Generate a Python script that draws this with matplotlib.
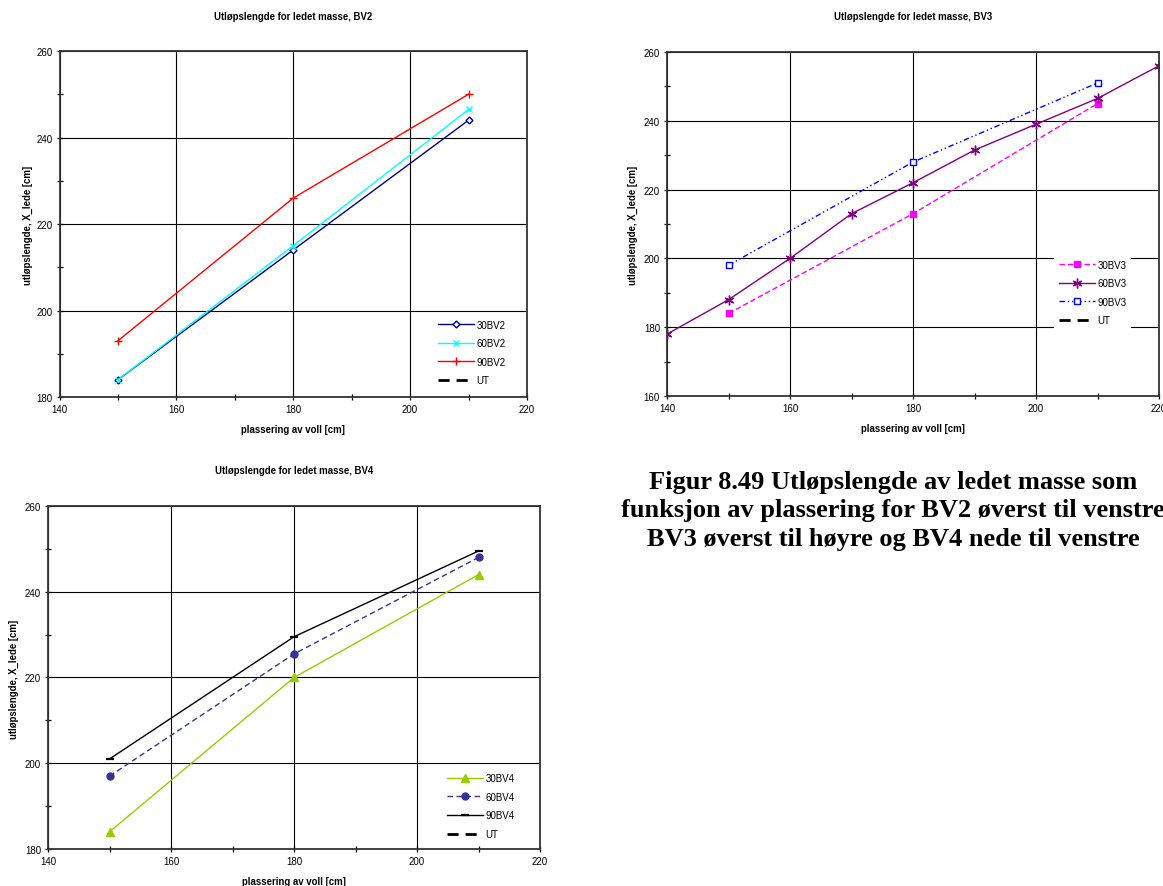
import matplotlib
matplotlib.use("Agg")
import matplotlib.pyplot as plt
from matplotlib.ticker import MultipleLocator

# ---------------- data ----------------
x3 = [150, 180, 210]

bv2_30 = [184, 214, 244]
bv2_60 = [184, 215, 246.5]
bv2_90 = [193, 226, 250]

bv3_30 = [184, 213, 245]
bv3_60_x = [140, 150, 160, 170, 180, 190, 200, 210, 220]
bv3_60 = [178, 188, 200, 213, 222, 231.5, 239, 246.5, 256]
bv3_90 = [198, 228, 251]

bv4_30 = [184, 220, 244]
bv4_60 = [197, 225.5, 248]
bv4_90 = [201, 229.5, 249.5]

titles = ["Utløpslengde for ledet masse, BV2",
          "Utløpslengde for ledet masse, BV3",
          "Utløpslengde for ledet masse, BV4"]
xlabel = "plassering av voll [cm]"
ylabel = "utløpslengde, X_lede [cm]"
caption = ("Figur 8.49 Utløpslengde av ledet masse som\n"
           "funksjon av plassering for BV2 øverst til venstre\n"
           "BV3 øverst til høyre og BV4 nede til venstre")

# ---------------- figure ----------------
W, H = 1163, 887
fig = plt.figure(figsize=(W / 100, H / 100), dpi=100)
plt.rcParams['font.family'] = ['Liberation Sans', 'DejaVu Sans']

def px_axes(l, r, t, b):
    return fig.add_axes([l / W, 1 - b / H, (r - l) / W, (b - t) / H])

def style(ax, ylo, yhi):
    ax.set_xlim(140, 220)
    ax.set_ylim(ylo, yhi)
    ax.xaxis.set_major_locator(MultipleLocator(20))
    ax.xaxis.set_minor_locator(MultipleLocator(10))
    ax.yaxis.set_major_locator(MultipleLocator(20))
    ax.yaxis.set_minor_locator(MultipleLocator(10))
    ax.grid(True, which='major', color='black', lw=0.8)
    ax.set_axisbelow(True)
    ax.tick_params(which='both', direction='inout', length=4, width=0.9,
                   labelsize=7, color='black', pad=3)
    for s in ax.spines.values():
        s.set_color('#333333')
        s.set_linewidth(1.3)

def leg(ax, ax_x, ax_y):
    lg = ax.legend(loc='center left', bbox_to_anchor=(ax_x, ax_y),
                   borderaxespad=0, frameon=True, fontsize=7,
                   handlelength=3.7, handletextpad=0.25, labelspacing=0.88,
                   borderpad=0.5)
    lg.get_frame().set_edgecolor('none')
    lg.get_frame().set_facecolor('white')
    lg.get_frame().set_alpha(1)
    lg.get_frame().set_boxstyle('square', pad=0)

ut_kw = dict(color='black', ls=(0, (4, 2.5)), lw=2, label='UT')

# ---- panel 1: BV2 ----
ax1 = px_axes(59.5, 527, 52, 398)
style(ax1, 180, 260)
ax1.plot(x3, bv2_30, color='#000080', lw=1, marker='D', ms=3.5,
         mfc='white', mec='#000080', mew=1, label='30BV2')
ax1.plot(x3, bv2_60, color='#00FFFF', lw=1, marker='x', ms=5,
         mew=1, label='60BV2')
ax1.plot(x3, bv2_90, color='#FF0000', lw=1, marker='+', ms=6,
         mew=1, label='90BV2')
ax1.plot([], [], **ut_kw)
leg(ax1, 0.799, 0.129)

# ---- panel 2: BV3 ----
ax2 = px_axes(667, 1159, 53, 397)
style(ax2, 160, 260)
ax2.plot(x3, bv3_30, color='#FF00FF', lw=1, ls=(0, (4, 2)), marker='s',
         ms=5, mfc='#FF00FF', mec='#FF00FF', label='30BV3')
ax2.plot(bv3_60_x, bv3_60, color='#800080', lw=1, marker=(6, 2, 0),
         ms=7, mew=1, label='60BV3')
ax2.plot(x3, bv3_90, color='#0000FF', lw=1, ls=(0, (4, 2, 1, 2, 1, 2)),
         marker='s', ms=5, mfc='white', mec='#0000FF', mew=1, label='90BV3')
ax2.plot([], [], **ut_kw)
leg(ax2, 0.787, 0.301)

# ---- panel 3: BV4 ----
ax3 = px_axes(48, 540, 507, 850)
style(ax3, 180, 260)
ax3.plot(x3, bv4_30, color='#99CC00', lw=1, marker='^', ms=5.5,
         mfc='#99CC00', mec='#99CC00', label='30BV4')
ax3.plot(x3, bv4_60, color='#333399', lw=1, ls=(0, (4, 2.5)), marker='o',
         ms=5, mfc='#333399', mec='#333399', label='60BV4')
ax3.plot(x3, bv4_90, color='black', lw=1, marker='_', ms=6, mew=1.6,
         label='90BV4')
ax3.plot([], [], **ut_kw)
leg(ax3, 0.801, 0.125)

# ---- titles / labels ----
def ftext(x, y, s, **kw):
    fig.text(x / W, 1 - y / H, s, ha='center', va='center', **kw)

tfs = 6.9
ftext(293, 17, titles[0], fontsize=tfs, fontweight='bold')
ftext(913, 17, titles[1], fontsize=tfs, fontweight='bold')
ftext(294, 471, titles[2], fontsize=tfs, fontweight='bold')

ftext(293, 430, xlabel, fontsize=tfs, fontweight='bold')
ftext(913, 429, xlabel, fontsize=tfs, fontweight='bold')
ftext(294, 882, xlabel, fontsize=tfs, fontweight='bold')

ftext(28, 225, ylabel, fontsize=tfs, fontweight='bold', rotation=90)
ftext(633, 225, ylabel, fontsize=tfs, fontweight='bold', rotation=90)
ftext(14, 679, ylabel, fontsize=tfs, fontweight='bold', rotation=90)

fig.text(893 / W, 1 - 511 / H, caption, ha='center', va='center',
         multialignment='center', fontsize=19, fontweight='bold',
         family=['Liberation Serif', 'DejaVu Serif'], linespacing=1.31)

fig.savefig("out.png", dpi=100)
